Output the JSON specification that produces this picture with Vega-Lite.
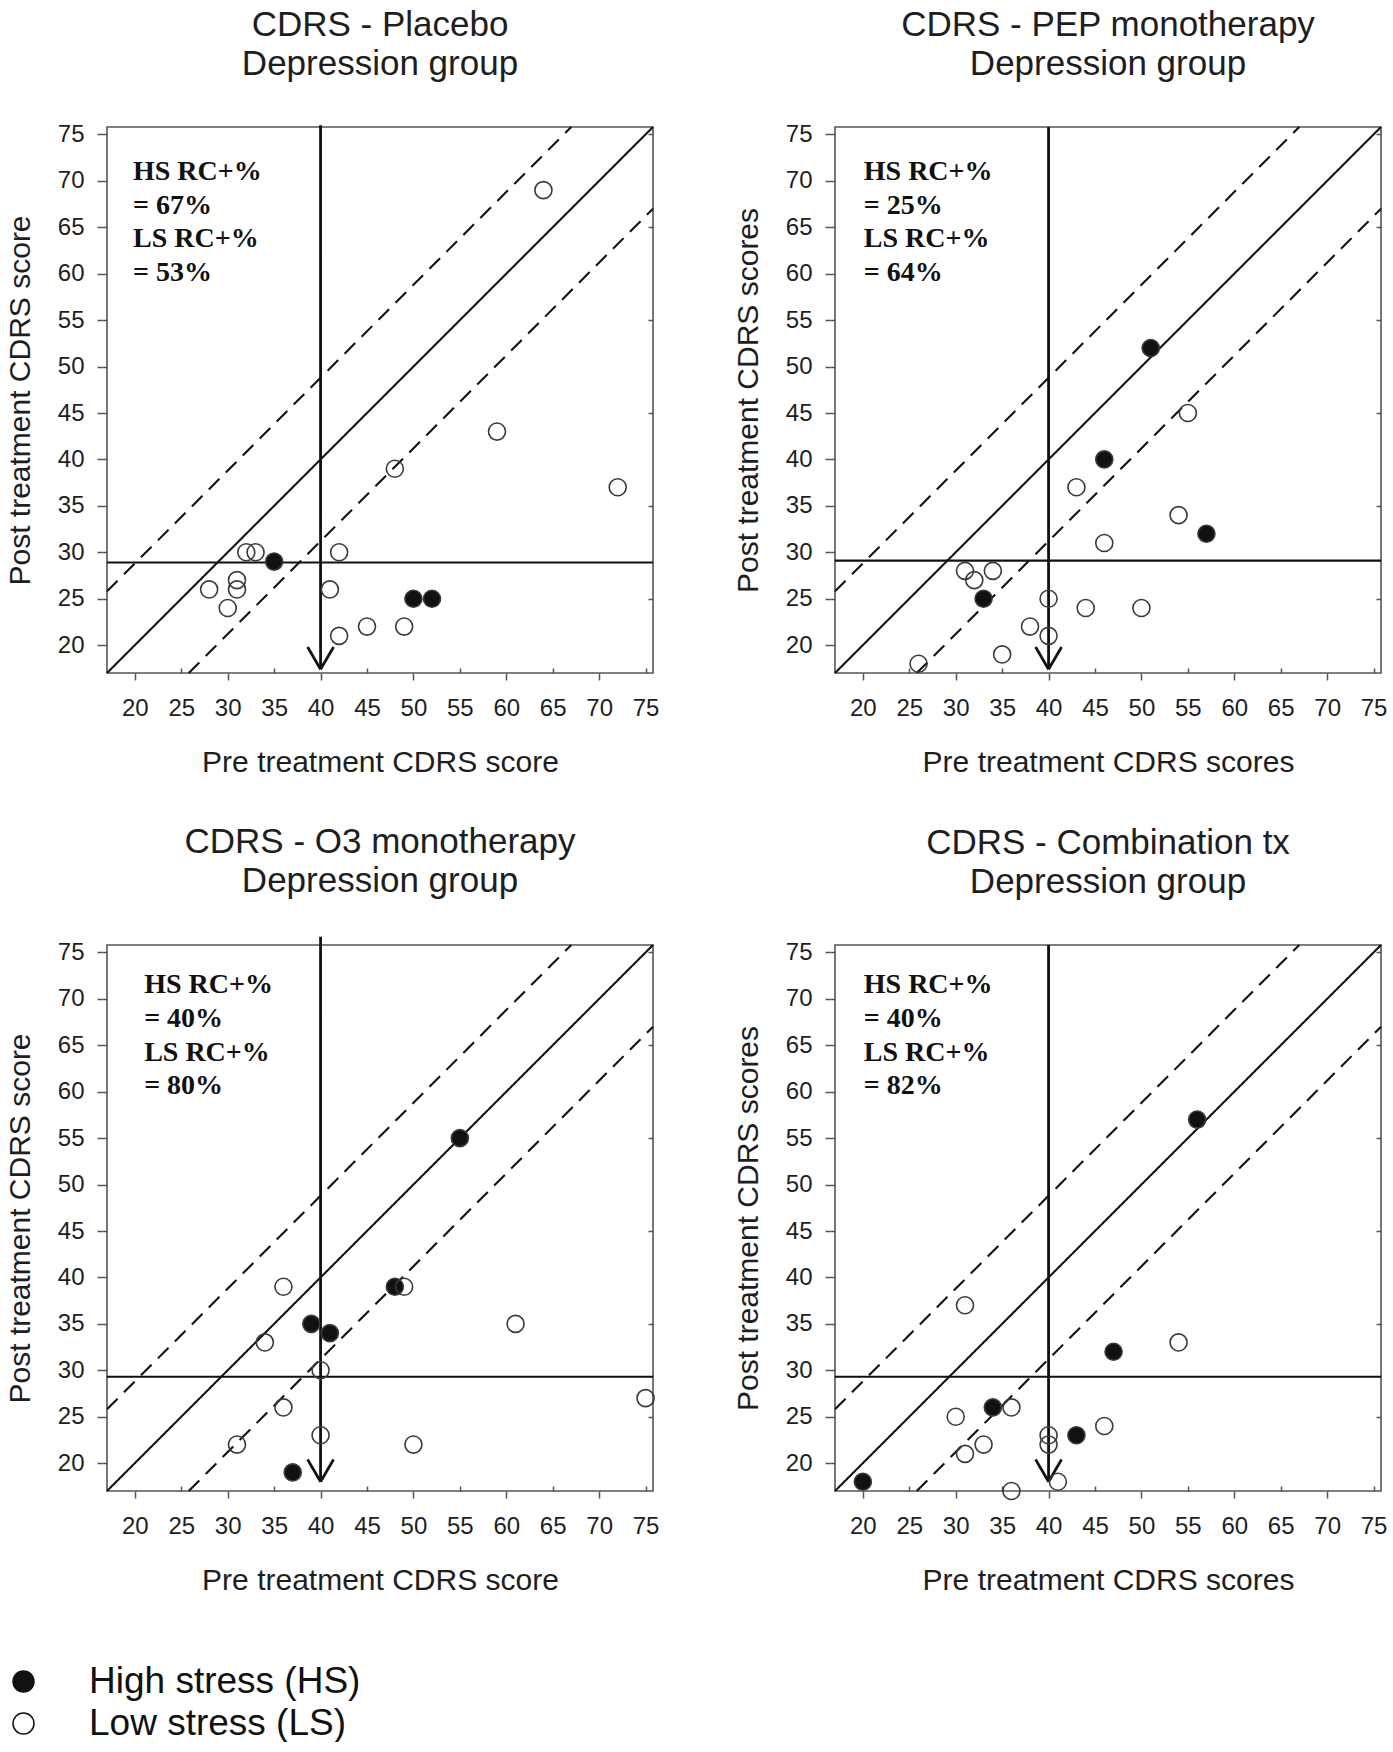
{
  "$schema": "https://vega.github.io/schema/vega-lite/v6.json",
  "background": "white",
  "padding": {"left": 4, "top": 7, "right": 0, "bottom": 0},
  "columns": 2,
  "bounds": "flush",
  "spacing": {"row": 272, "column": 182},
  "resolve": {"scale": {"fill": "shared", "strokeDash": "shared", "strokeWidth": "shared"}, "legend": {"fill": "shared"}},
  "datasets": {
    "pts": [
      {"p": "A", "pre": 35, "post": 29, "stress": "High stress (HS)"},
      {"p": "A", "pre": 50, "post": 25, "stress": "High stress (HS)"},
      {"p": "A", "pre": 52, "post": 25, "stress": "High stress (HS)"},
      {"p": "A", "pre": 64, "post": 69, "stress": "Low stress (LS)"},
      {"p": "A", "pre": 59, "post": 43, "stress": "Low stress (LS)"},
      {"p": "A", "pre": 48, "post": 39, "stress": "Low stress (LS)"},
      {"p": "A", "pre": 72, "post": 37, "stress": "Low stress (LS)"},
      {"p": "A", "pre": 32, "post": 30, "stress": "Low stress (LS)"},
      {"p": "A", "pre": 33, "post": 30, "stress": "Low stress (LS)"},
      {"p": "A", "pre": 42, "post": 30, "stress": "Low stress (LS)"},
      {"p": "A", "pre": 28, "post": 26, "stress": "Low stress (LS)"},
      {"p": "A", "pre": 31, "post": 27, "stress": "Low stress (LS)"},
      {"p": "A", "pre": 31, "post": 26, "stress": "Low stress (LS)"},
      {"p": "A", "pre": 30, "post": 24, "stress": "Low stress (LS)"},
      {"p": "A", "pre": 41, "post": 26, "stress": "Low stress (LS)"},
      {"p": "A", "pre": 42, "post": 21, "stress": "Low stress (LS)"},
      {"p": "A", "pre": 45, "post": 22, "stress": "Low stress (LS)"},
      {"p": "A", "pre": 49, "post": 22, "stress": "Low stress (LS)"},
      {"p": "B", "pre": 51, "post": 52, "stress": "High stress (HS)"},
      {"p": "B", "pre": 46, "post": 40, "stress": "High stress (HS)"},
      {"p": "B", "pre": 57, "post": 32, "stress": "High stress (HS)"},
      {"p": "B", "pre": 33, "post": 25, "stress": "High stress (HS)"},
      {"p": "B", "pre": 55, "post": 45, "stress": "Low stress (LS)"},
      {"p": "B", "pre": 43, "post": 37, "stress": "Low stress (LS)"},
      {"p": "B", "pre": 54, "post": 34, "stress": "Low stress (LS)"},
      {"p": "B", "pre": 46, "post": 31, "stress": "Low stress (LS)"},
      {"p": "B", "pre": 31, "post": 28, "stress": "Low stress (LS)"},
      {"p": "B", "pre": 32, "post": 27, "stress": "Low stress (LS)"},
      {"p": "B", "pre": 34, "post": 28, "stress": "Low stress (LS)"},
      {"p": "B", "pre": 40, "post": 25, "stress": "Low stress (LS)"},
      {"p": "B", "pre": 44, "post": 24, "stress": "Low stress (LS)"},
      {"p": "B", "pre": 50, "post": 24, "stress": "Low stress (LS)"},
      {"p": "B", "pre": 38, "post": 22, "stress": "Low stress (LS)"},
      {"p": "B", "pre": 40, "post": 21, "stress": "Low stress (LS)"},
      {"p": "B", "pre": 35, "post": 19, "stress": "Low stress (LS)"},
      {"p": "B", "pre": 26, "post": 18, "stress": "Low stress (LS)"},
      {"p": "C", "pre": 55, "post": 55, "stress": "High stress (HS)"},
      {"p": "C", "pre": 48, "post": 39, "stress": "High stress (HS)"},
      {"p": "C", "pre": 39, "post": 35, "stress": "High stress (HS)"},
      {"p": "C", "pre": 41, "post": 34, "stress": "High stress (HS)"},
      {"p": "C", "pre": 37, "post": 19, "stress": "High stress (HS)"},
      {"p": "C", "pre": 36, "post": 39, "stress": "Low stress (LS)"},
      {"p": "C", "pre": 49, "post": 39, "stress": "Low stress (LS)"},
      {"p": "C", "pre": 61, "post": 35, "stress": "Low stress (LS)"},
      {"p": "C", "pre": 34, "post": 33, "stress": "Low stress (LS)"},
      {"p": "C", "pre": 40, "post": 30, "stress": "Low stress (LS)"},
      {"p": "C", "pre": 75, "post": 27, "stress": "Low stress (LS)"},
      {"p": "C", "pre": 36, "post": 26, "stress": "Low stress (LS)"},
      {"p": "C", "pre": 40, "post": 23, "stress": "Low stress (LS)"},
      {"p": "C", "pre": 31, "post": 22, "stress": "Low stress (LS)"},
      {"p": "C", "pre": 50, "post": 22, "stress": "Low stress (LS)"},
      {"p": "D", "pre": 56, "post": 57, "stress": "High stress (HS)"},
      {"p": "D", "pre": 47, "post": 32, "stress": "High stress (HS)"},
      {"p": "D", "pre": 34, "post": 26, "stress": "High stress (HS)"},
      {"p": "D", "pre": 43, "post": 23, "stress": "High stress (HS)"},
      {"p": "D", "pre": 20, "post": 18, "stress": "High stress (HS)"},
      {"p": "D", "pre": 31, "post": 37, "stress": "Low stress (LS)"},
      {"p": "D", "pre": 54, "post": 33, "stress": "Low stress (LS)"},
      {"p": "D", "pre": 36, "post": 26, "stress": "Low stress (LS)"},
      {"p": "D", "pre": 30, "post": 25, "stress": "Low stress (LS)"},
      {"p": "D", "pre": 46, "post": 24, "stress": "Low stress (LS)"},
      {"p": "D", "pre": 40, "post": 23, "stress": "Low stress (LS)"},
      {"p": "D", "pre": 40, "post": 22, "stress": "Low stress (LS)"},
      {"p": "D", "pre": 33, "post": 22, "stress": "Low stress (LS)"},
      {"p": "D", "pre": 31, "post": 21, "stress": "Low stress (LS)"},
      {"p": "D", "pre": 36, "post": 17, "stress": "Low stress (LS)"},
      {"p": "D", "pre": 41, "post": 18, "stress": "Low stress (LS)"}
    ],
    "lines": [
      {"p": "A", "style": "solid", "x1": 17, "y1": 17, "x2": 75.8, "y2": 75.8},
      {"p": "A", "style": "dashed", "x1": 17, "y1": 25.8, "x2": 67, "y2": 75.8},
      {"p": "A", "style": "dashed", "x1": 25.8, "y1": 17, "x2": 75.8, "y2": 67},
      {"p": "A", "style": "solid", "x1": 17, "y1": 28.9, "x2": 75.8, "y2": 28.9},
      {"p": "A", "style": "arrow", "x1": 40, "y1": 76, "x2": 40, "y2": 17.4},
      {"p": "A", "style": "arrow", "x1": 38.6, "y1": 19.8, "x2": 40, "y2": 17.4},
      {"p": "A", "style": "arrow", "x1": 41.4, "y1": 19.8, "x2": 40, "y2": 17.4},
      {"p": "B", "style": "solid", "x1": 17, "y1": 17, "x2": 75.8, "y2": 75.8},
      {"p": "B", "style": "dashed", "x1": 17, "y1": 25.8, "x2": 67, "y2": 75.8},
      {"p": "B", "style": "dashed", "x1": 25.8, "y1": 17, "x2": 75.8, "y2": 67},
      {"p": "B", "style": "solid", "x1": 17, "y1": 29.1, "x2": 75.8, "y2": 29.1},
      {"p": "B", "style": "arrow", "x1": 40, "y1": 75.8, "x2": 40, "y2": 17.4},
      {"p": "B", "style": "arrow", "x1": 38.6, "y1": 19.8, "x2": 40, "y2": 17.4},
      {"p": "B", "style": "arrow", "x1": 41.4, "y1": 19.8, "x2": 40, "y2": 17.4},
      {"p": "C", "style": "solid", "x1": 17, "y1": 17, "x2": 75.8, "y2": 75.8},
      {"p": "C", "style": "dashed", "x1": 17, "y1": 25.8, "x2": 67, "y2": 75.8},
      {"p": "C", "style": "dashed", "x1": 25.8, "y1": 17, "x2": 75.8, "y2": 67},
      {"p": "C", "style": "solid", "x1": 17, "y1": 29.3, "x2": 75.8, "y2": 29.3},
      {"p": "C", "style": "arrow", "x1": 40, "y1": 76.7, "x2": 40, "y2": 18},
      {"p": "C", "style": "arrow", "x1": 38.6, "y1": 20.4, "x2": 40, "y2": 18},
      {"p": "C", "style": "arrow", "x1": 41.4, "y1": 20.4, "x2": 40, "y2": 18},
      {"p": "D", "style": "solid", "x1": 17, "y1": 17, "x2": 75.8, "y2": 75.8},
      {"p": "D", "style": "dashed", "x1": 17, "y1": 25.8, "x2": 67, "y2": 75.8},
      {"p": "D", "style": "dashed", "x1": 25.8, "y1": 17, "x2": 75.8, "y2": 67},
      {"p": "D", "style": "solid", "x1": 17, "y1": 29.3, "x2": 75.8, "y2": 29.3},
      {"p": "D", "style": "arrow", "x1": 40, "y1": 75.8, "x2": 40, "y2": 18},
      {"p": "D", "style": "arrow", "x1": 38.6, "y1": 20.4, "x2": 40, "y2": 18},
      {"p": "D", "style": "arrow", "x1": 41.4, "y1": 20.4, "x2": 40, "y2": 18}
    ],
    "notes": [
      {"p": "A", "label": "HS RC+%", "tx": 19.8, "ty": 70.1},
      {"p": "A", "label": "= 67%", "tx": 19.8, "ty": 66.45},
      {"p": "A", "label": "LS RC+%", "tx": 19.8, "ty": 62.85},
      {"p": "A", "label": "= 53%", "tx": 19.8, "ty": 59.25},
      {"p": "B", "label": "HS RC+%", "tx": 20.1, "ty": 70.1},
      {"p": "B", "label": "= 25%", "tx": 20.1, "ty": 66.45},
      {"p": "B", "label": "LS RC+%", "tx": 20.1, "ty": 62.85},
      {"p": "B", "label": "= 64%", "tx": 20.1, "ty": 59.25},
      {"p": "C", "label": "HS RC+%", "tx": 21.0, "ty": 70.6},
      {"p": "C", "label": "= 40%", "tx": 21.0, "ty": 66.95},
      {"p": "C", "label": "LS RC+%", "tx": 21.0, "ty": 63.35},
      {"p": "C", "label": "= 80%", "tx": 21.0, "ty": 59.75},
      {"p": "D", "label": "HS RC+%", "tx": 20.1, "ty": 70.6},
      {"p": "D", "label": "= 40%", "tx": 20.1, "ty": 66.95},
      {"p": "D", "label": "LS RC+%", "tx": 20.1, "ty": 63.35},
      {"p": "D", "label": "= 82%", "tx": 20.1, "ty": 59.75}
    ]
  },
  "concat": [
    {
      "width": 546, "height": 546,
      "title": {"text": ["CDRS - Placebo", "Depression group"], "offset": 40},
      "resolve": {"axis": {"y": "independent"}},
      "layer": [
        {
          "data": {"name": "lines"},
          "transform": [{"filter": "datum.p === 'A'"}],
          "mark": {"type": "rule", "clip": false, "color": "#111"},
          "encoding": {
            "x": {"field": "x1", "type": "quantitative", "scale": {"domain": [17, 75.8], "nice": false, "zero": false},
              "axis": {"title": "Pre treatment CDRS score", "values": [20, 25, 30, 35, 40, 45, 50, 55, 60, 65, 70, 75], "tickSize": {"condition": {"test": "datum.value % 10 === 5", "value": -5}, "value": 7}, "labelPadding": {"condition": {"test": "datum.value % 10 === 5", "value": 28}, "value": 16}, "titlePadding": 27, "labelFlush": false, "labelOverlap": false}},
            "y": {"field": "y1", "type": "quantitative", "scale": {"domain": [17, 75.8], "nice": false, "zero": false},
              "axis": {"title": "Post treatment CDRS score", "orient": "left", "values": [20, 25, 30, 35, 40, 45, 50, 55, 60, 65, 70, 75], "tickSize": 10, "labelPadding": 13, "titlePadding": 22, "labelFlush": false, "labelOverlap": false}},
            "x2": {"field": "x2"},
            "y2": {"field": "y2"},
            "strokeDash": {"field": "style", "type": "nominal", "scale": {"domain": ["solid", "dashed", "arrow"], "range": [[1, 0], [15, 9], [1, 0]]}, "legend": null},
            "strokeWidth": {"field": "style", "type": "nominal", "scale": {"type": "ordinal", "domain": ["solid", "dashed", "arrow"], "range": [2.1, 2.1, 2.8]}, "legend": null}
          }
        },
        {
          "data": {"name": "pts"},
          "transform": [{"filter": "datum.p === 'A'"}],
          "mark": {"type": "point", "shape": "circle", "filled": true, "size": 290, "stroke": "#3a3a3a", "strokeWidth": 1.6, "opacity": 1},
          "encoding": {
            "x": {"field": "pre", "type": "quantitative"},
            "y": {"field": "post", "type": "quantitative", "axis": {"orient": "right", "title": null, "labels": false, "values": [25, 35, 45, 55, 65, 75], "tickSize": -5}},
            "fill": {"field": "stress", "type": "nominal", "scale": {"domain": ["High stress (HS)", "Low stress (LS)"], "range": ["#111111", "transparent"]}, "legend": {"title": null}}
          }
        },
        {
          "data": {"name": "notes"},
          "transform": [{"filter": "datum.p === 'A'"}],
          "mark": {"type": "text", "font": "Liberation Serif", "fontWeight": "bold", "fontSize": 28, "align": "left", "baseline": "alphabetic", "color": "#111"},
          "encoding": {
            "x": {"field": "tx", "type": "quantitative"},
            "y": {"field": "ty", "type": "quantitative", "axis": null},
            "text": {"field": "label"}
          }
        }
      ]
    },
    {
      "width": 546, "height": 546,
      "title": {"text": ["CDRS - PEP monotherapy", "Depression group"], "offset": 40},
      "resolve": {"axis": {"y": "independent"}},
      "layer": [
        {
          "data": {"name": "lines"},
          "transform": [{"filter": "datum.p === 'B'"}],
          "mark": {"type": "rule", "clip": false, "color": "#111"},
          "encoding": {
            "x": {"field": "x1", "type": "quantitative", "scale": {"domain": [17, 75.8], "nice": false, "zero": false},
              "axis": {"title": "Pre treatment CDRS scores", "values": [20, 25, 30, 35, 40, 45, 50, 55, 60, 65, 70, 75], "tickSize": {"condition": {"test": "datum.value % 10 === 5", "value": -5}, "value": 7}, "labelPadding": {"condition": {"test": "datum.value % 10 === 5", "value": 28}, "value": 16}, "titlePadding": 27, "labelFlush": false, "labelOverlap": false}},
            "y": {"field": "y1", "type": "quantitative", "scale": {"domain": [17, 75.8], "nice": false, "zero": false},
              "axis": {"title": "Post treatment CDRS scores", "orient": "left", "values": [20, 25, 30, 35, 40, 45, 50, 55, 60, 65, 70, 75], "tickSize": 10, "labelPadding": 13, "titlePadding": 22, "labelFlush": false, "labelOverlap": false}},
            "x2": {"field": "x2"},
            "y2": {"field": "y2"},
            "strokeDash": {"field": "style", "type": "nominal", "scale": {"domain": ["solid", "dashed", "arrow"], "range": [[1, 0], [15, 9], [1, 0]]}, "legend": null},
            "strokeWidth": {"field": "style", "type": "nominal", "scale": {"type": "ordinal", "domain": ["solid", "dashed", "arrow"], "range": [2.1, 2.1, 2.8]}, "legend": null}
          }
        },
        {
          "data": {"name": "pts"},
          "transform": [{"filter": "datum.p === 'B'"}],
          "mark": {"type": "point", "shape": "circle", "filled": true, "size": 290, "stroke": "#3a3a3a", "strokeWidth": 1.6, "opacity": 1},
          "encoding": {
            "x": {"field": "pre", "type": "quantitative"},
            "y": {"field": "post", "type": "quantitative", "axis": {"orient": "right", "title": null, "labels": false, "values": [25, 35, 45, 55, 65, 75], "tickSize": -5}},
            "fill": {"field": "stress", "type": "nominal", "scale": {"domain": ["High stress (HS)", "Low stress (LS)"], "range": ["#111111", "transparent"]}, "legend": {"title": null}}
          }
        },
        {
          "data": {"name": "notes"},
          "transform": [{"filter": "datum.p === 'B'"}],
          "mark": {"type": "text", "font": "Liberation Serif", "fontWeight": "bold", "fontSize": 28, "align": "left", "baseline": "alphabetic", "color": "#111"},
          "encoding": {
            "x": {"field": "tx", "type": "quantitative"},
            "y": {"field": "ty", "type": "quantitative", "axis": null},
            "text": {"field": "label"}
          }
        }
      ]
    },
    {
      "width": 546, "height": 546,
      "title": {"text": ["CDRS - O3 monotherapy", "Depression group"], "offset": 36},
      "resolve": {"axis": {"y": "independent"}},
      "layer": [
        {
          "data": {"name": "lines"},
          "transform": [{"filter": "datum.p === 'C'"}],
          "mark": {"type": "rule", "clip": false, "color": "#111"},
          "encoding": {
            "x": {"field": "x1", "type": "quantitative", "scale": {"domain": [17, 75.8], "nice": false, "zero": false},
              "axis": {"title": "Pre treatment CDRS score", "values": [20, 25, 30, 35, 40, 45, 50, 55, 60, 65, 70, 75], "tickSize": {"condition": {"test": "datum.value % 10 === 5", "value": -5}, "value": 7}, "labelPadding": {"condition": {"test": "datum.value % 10 === 5", "value": 28}, "value": 16}, "titlePadding": 27, "labelFlush": false, "labelOverlap": false}},
            "y": {"field": "y1", "type": "quantitative", "scale": {"domain": [17, 75.8], "nice": false, "zero": false},
              "axis": {"title": "Post treatment CDRS score", "orient": "left", "values": [20, 25, 30, 35, 40, 45, 50, 55, 60, 65, 70, 75], "tickSize": 10, "labelPadding": 13, "titlePadding": 22, "labelFlush": false, "labelOverlap": false}},
            "x2": {"field": "x2"},
            "y2": {"field": "y2"},
            "strokeDash": {"field": "style", "type": "nominal", "scale": {"domain": ["solid", "dashed", "arrow"], "range": [[1, 0], [15, 9], [1, 0]]}, "legend": null},
            "strokeWidth": {"field": "style", "type": "nominal", "scale": {"type": "ordinal", "domain": ["solid", "dashed", "arrow"], "range": [2.1, 2.1, 2.8]}, "legend": null}
          }
        },
        {
          "data": {"name": "pts"},
          "transform": [{"filter": "datum.p === 'C'"}],
          "mark": {"type": "point", "shape": "circle", "filled": true, "size": 290, "stroke": "#3a3a3a", "strokeWidth": 1.6, "opacity": 1},
          "encoding": {
            "x": {"field": "pre", "type": "quantitative"},
            "y": {"field": "post", "type": "quantitative", "axis": {"orient": "right", "title": null, "labels": false, "values": [25, 35, 45, 55, 65, 75], "tickSize": -5}},
            "fill": {"field": "stress", "type": "nominal", "scale": {"domain": ["High stress (HS)", "Low stress (LS)"], "range": ["#111111", "transparent"]}, "legend": {"title": null}}
          }
        },
        {
          "data": {"name": "notes"},
          "transform": [{"filter": "datum.p === 'C'"}],
          "mark": {"type": "text", "font": "Liberation Serif", "fontWeight": "bold", "fontSize": 28, "align": "left", "baseline": "alphabetic", "color": "#111"},
          "encoding": {
            "x": {"field": "tx", "type": "quantitative"},
            "y": {"field": "ty", "type": "quantitative", "axis": null},
            "text": {"field": "label"}
          }
        }
      ]
    },
    {
      "width": 546, "height": 546,
      "title": {"text": ["CDRS - Combination tx", "Depression group"], "offset": 40},
      "resolve": {"axis": {"y": "independent"}},
      "layer": [
        {
          "data": {"name": "lines"},
          "transform": [{"filter": "datum.p === 'D'"}],
          "mark": {"type": "rule", "clip": false, "color": "#111"},
          "encoding": {
            "x": {"field": "x1", "type": "quantitative", "scale": {"domain": [17, 75.8], "nice": false, "zero": false},
              "axis": {"title": "Pre treatment CDRS scores", "values": [20, 25, 30, 35, 40, 45, 50, 55, 60, 65, 70, 75], "tickSize": {"condition": {"test": "datum.value % 10 === 5", "value": -5}, "value": 7}, "labelPadding": {"condition": {"test": "datum.value % 10 === 5", "value": 28}, "value": 16}, "titlePadding": 27, "labelFlush": false, "labelOverlap": false}},
            "y": {"field": "y1", "type": "quantitative", "scale": {"domain": [17, 75.8], "nice": false, "zero": false},
              "axis": {"title": "Post treatment CDRS scores", "orient": "left", "values": [20, 25, 30, 35, 40, 45, 50, 55, 60, 65, 70, 75], "tickSize": 10, "labelPadding": 13, "titlePadding": 22, "labelFlush": false, "labelOverlap": false}},
            "x2": {"field": "x2"},
            "y2": {"field": "y2"},
            "strokeDash": {"field": "style", "type": "nominal", "scale": {"domain": ["solid", "dashed", "arrow"], "range": [[1, 0], [15, 9], [1, 0]]}, "legend": null},
            "strokeWidth": {"field": "style", "type": "nominal", "scale": {"type": "ordinal", "domain": ["solid", "dashed", "arrow"], "range": [2.1, 2.1, 2.8]}, "legend": null}
          }
        },
        {
          "data": {"name": "pts"},
          "transform": [{"filter": "datum.p === 'D'"}],
          "mark": {"type": "point", "shape": "circle", "filled": true, "size": 290, "stroke": "#3a3a3a", "strokeWidth": 1.6, "opacity": 1},
          "encoding": {
            "x": {"field": "pre", "type": "quantitative"},
            "y": {"field": "post", "type": "quantitative", "axis": {"orient": "right", "title": null, "labels": false, "values": [25, 35, 45, 55, 65, 75], "tickSize": -5}},
            "fill": {"field": "stress", "type": "nominal", "scale": {"domain": ["High stress (HS)", "Low stress (LS)"], "range": ["#111111", "transparent"]}, "legend": {"title": null}}
          }
        },
        {
          "data": {"name": "notes"},
          "transform": [{"filter": "datum.p === 'D'"}],
          "mark": {"type": "text", "font": "Liberation Serif", "fontWeight": "bold", "fontSize": 28, "align": "left", "baseline": "alphabetic", "color": "#111"},
          "encoding": {
            "x": {"field": "tx", "type": "quantitative"},
            "y": {"field": "ty", "type": "quantitative", "axis": null},
            "text": {"field": "label"}
          }
        }
      ]
    }
  ],
  "config": {
    "font": "Liberation Sans",
    "view": {"stroke": "#555555", "strokeWidth": 1.6},
    "axis": {"domain": false, "grid": false, "labelFont": "Liberation Sans", "labelFontSize": 24, "labelColor": "#1e1e1e", "titleFont": "Liberation Sans", "titleFontSize": 30, "titleFontWeight": "normal", "titleColor": "#1e1e1e", "tickColor": "#555555", "tickWidth": 1.5},
    "title": {"font": "Liberation Sans", "fontSize": 35, "fontWeight": "normal", "color": "#1e1e1e", "anchor": "middle", "frame": "group", "lineHeight": 39},
    "legend": {"orient": "none", "legendX": -102, "legendY": 1536, "labelFont": "Liberation Sans", "labelFontSize": 37, "labelColor": "#111111", "labelLimit": 0, "symbolType": "circle", "symbolSize": 440, "symbolStrokeColor": "#111111", "symbolStrokeWidth": 1.5, "labelOffset": 47, "rowPadding": 4, "padding": 0}
  }
}
